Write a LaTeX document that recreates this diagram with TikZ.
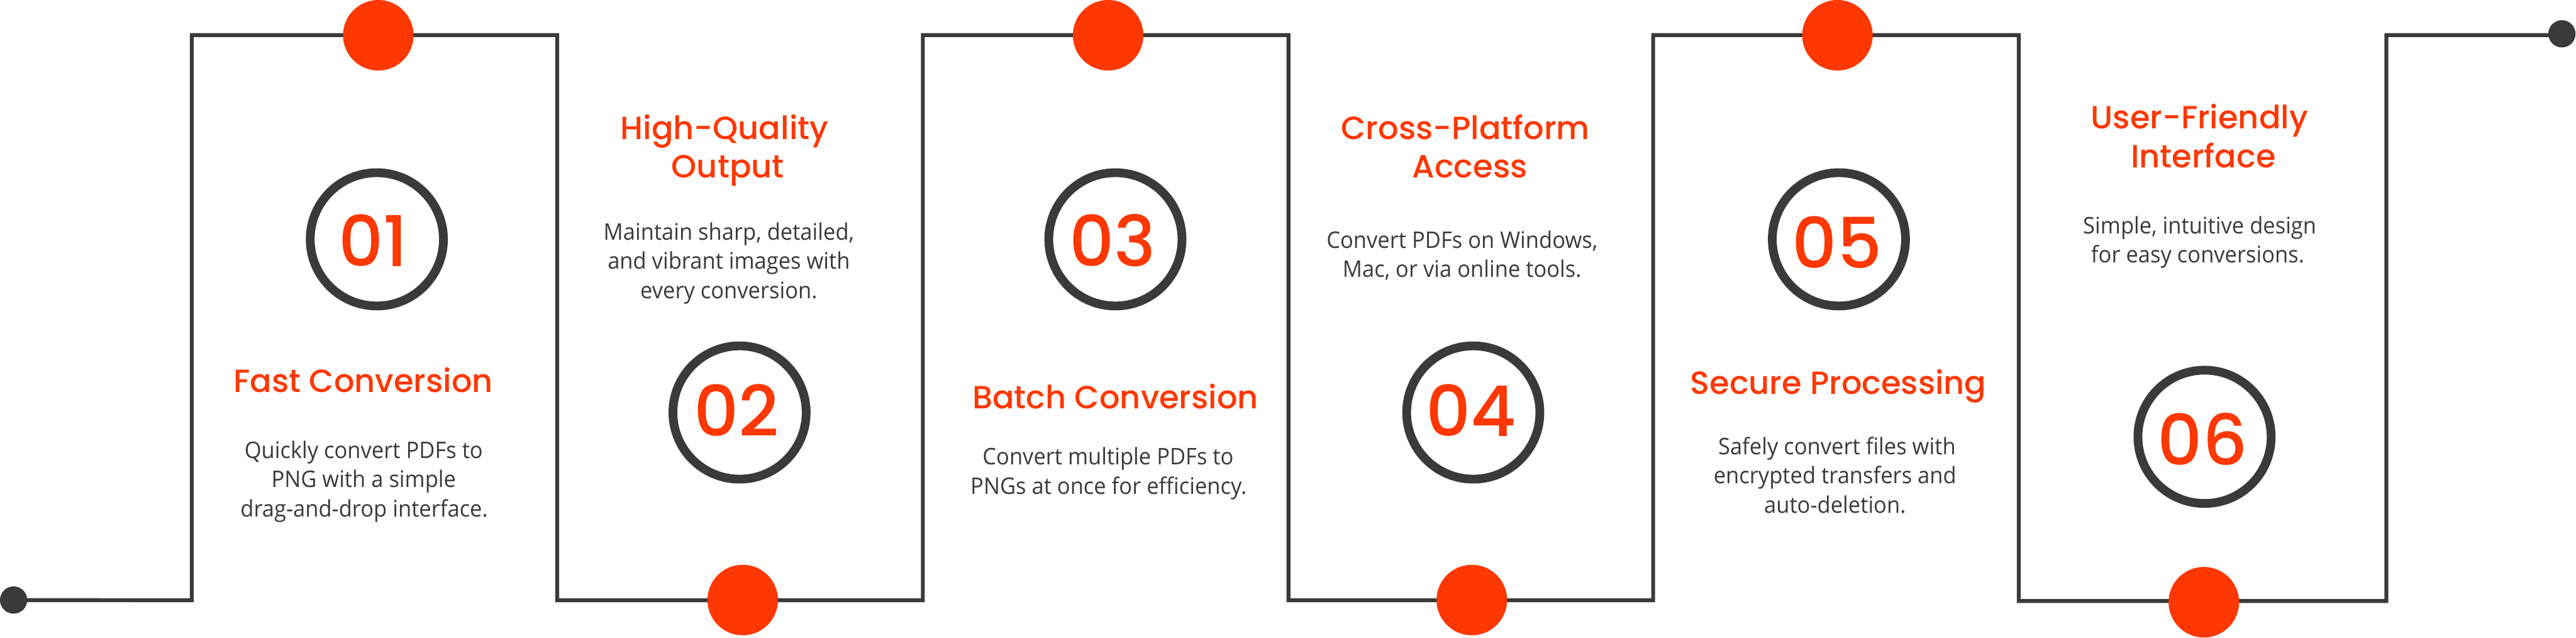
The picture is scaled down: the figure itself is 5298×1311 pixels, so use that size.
\documentclass[tikz,border=0pt]{standalone}
\usepackage{fontspec}
\setmainfont[FakeStretch=0.95]{Open Sans}
\newfontfamily\headfont{Poppins Medium}
\definecolor{hot}{HTML}{FF3700}
\definecolor{ink}{HTML}{3A3A3A}
\tikzset{
  wire/.style={draw=ink,line width=8pt,line join=miter},
  enddot/.style={circle,fill=ink,minimum size=56pt,inner sep=0pt},
  reddot/.style={circle,fill=hot,minimum size=145pt,inner sep=0pt},
  ring/.style={circle,draw=ink,line width=18pt,fill=white,minimum size=274pt,inner sep=0pt},
  numtext/.style={text=hot,anchor=center,inner sep=0pt,font=\headfont\fontsize{144}{146}\selectfont},
  headtext/.style={text=hot,anchor=base,inner sep=0pt,font=\headfont\fontsize{66}{79}\selectfont},
  bodytext/.style={text=ink,anchor=base,inner sep=0pt,font=\fontsize{47}{60}\selectfont},
}
\begin{document}
\begin{tikzpicture}[x=1pt,y=-1pt]
\useasboundingbox (0,0) rectangle (5298,1311);
\node[enddot] (start) at (28,1233.5) {};
\node[enddot] (finish) at (5269,69.5) {};
\coordinate (a1) at (394.5,1234);
\coordinate (a2) at (394.5,72);
\coordinate (a3) at (1146,72);
\coordinate (a4) at (1146,1234);
\coordinate (a5) at (1898,1234);
\coordinate (a6) at (1898,72);
\coordinate (a7) at (2650,72);
\coordinate (a8) at (2650,1234);
\coordinate (a9) at (3400,1234);
\coordinate (a10) at (3400,72);
\coordinate (a11) at (4152,72);
\coordinate (a12) at (4152,1235.5);
\coordinate (a13) at (4908,1235.5);
\coordinate (a14) at (4908,72);
\coordinate (a15) at (5269,72);
\draw[wire] (start.center) -- (a1) -- (a2) -- (a3) -- (a4) -- (a5) -- (a6) -- (a7) -- (a8) -- (a9) -- (a10) -- (a11) -- (a12) -- (a13) -- (a14) -- (a15);
\node[reddot] (r1) at (778,72.5) {};
\node[reddot] (r2) at (1527.5,1233.5) {};
\node[reddot] (r3) at (2279,72.5) {};
\node[reddot] (r4) at (3027,1233.5) {};
\node[reddot] (r5) at (3779,72.5) {};
\node[reddot] (r6) at (4532.5,1238) {};
\node[ring] (c1) at (775,492) {};
\node[ring] (c2) at (1521,848) {};
\node[ring] (c3) at (2294,492) {};
\node[ring] (c4) at (3030,848) {};
\node[ring] (c5) at (3782,492) {};
\node[ring] (c6) at (4534,898) {};
\node[numtext] (n1) at (768,494) {01};
\node[numtext] (n2) at (1515,843) {02};
\node[numtext] (n3) at (2288,494) {03};
\node[numtext] (n4) at (3025,843) {04};
\node[numtext] (n5) at (3778,498.5) {05};
\node[numtext] (n6) at (4530,902.5) {06};
\node[headtext] (h1) at (747,806.5) {Fast Conversion};
\node[headtext] (h2a) at (1490,287) {High-Quality};
\node[headtext] (h2b) at (1497,366) {Output};
\node[headtext] (h3) at (2294,840) {Batch Conversion};
\node[headtext] (h4a) at (3014,287) {Cross-Platform};
\node[headtext] (h4b) at (3023,366) {Access};
\node[headtext] (h5) at (3781,810) {Secure Processing};
\node[headtext] (h6a) at (4523.5,265) {User-Friendly};
\node[headtext] (h6b) at (4531.5,344.5) {Interface};
\node[bodytext] (b1a) at (748,942) {Quickly convert PDFs to};
\node[bodytext] (b1b) at (748,1002) {PNG with a simple};
\node[bodytext] (b1c) at (749,1062) {drag-and-drop interface.};
\node[bodytext] (b2a) at (1499,493) {Maintain sharp, detailed,};
\node[bodytext] (b2b) at (1499,553) {and vibrant images with};
\node[bodytext] (b2c) at (1499,613.5) {every conversion.};
\node[bodytext] (b3a) at (2279,955.5) {Convert multiple PDFs to};
\node[bodytext] (b3b) at (2280,1016) {PNGs at once for efficiency.};
\node[bodytext] (b4a) at (3007,510) {Convert PDFs on Windows,};
\node[bodytext] (b4b) at (3007,570) {Mac, or via online tools.};
\node[bodytext] (b5a) at (3778,934.5) {Safely convert files with};
\node[bodytext] (b5b) at (3774,994.5) {encrypted transfers and};
\node[bodytext] (b5c) at (3774,1054.5) {auto-deletion.};
\node[bodytext] (b6a) at (4524,480) {Simple, intuitive design};
\node[bodytext] (b6b) at (4520,540) {for easy conversions.};
\end{tikzpicture}
\end{document}
